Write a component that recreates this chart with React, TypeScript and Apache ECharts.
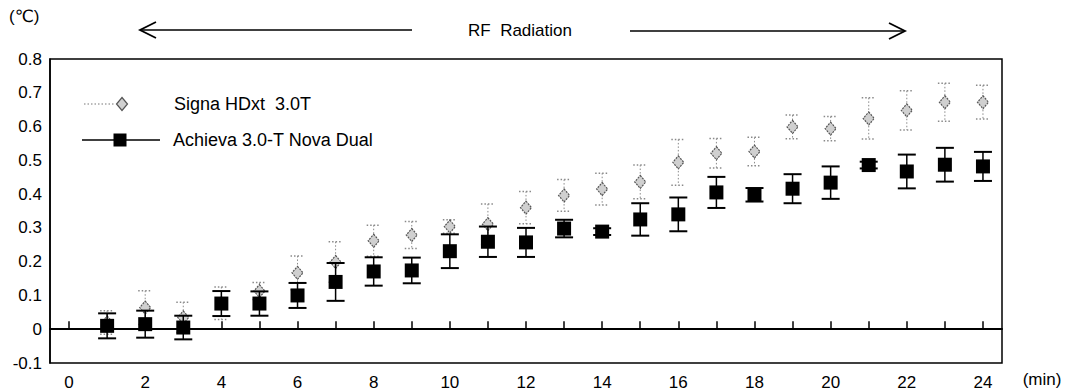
import React, { useEffect, useRef } from "react";
import * as echarts from "echarts";

const minuteLabels = ["0","1","2","3","4","5","6","7","8","9","10","11","12","13","14","15","16","17","18","19","20","21","22","23","24"];
const minutes = [1,2,3,4,5,6,7,8,9,10,11,12,13,14,15,16,17,18,19,20,21,22,23,24];
const signaMean = [0.02,0.064,0.035,0.077,0.113,0.167,0.199,0.262,0.279,0.304,0.311,0.36,0.396,0.415,0.436,0.494,0.521,0.526,0.599,0.594,0.624,0.648,0.672,0.672];
const signaSD = [0.035,0.05,0.045,0.048,0.025,0.05,0.06,0.046,0.04,0.02,0.06,0.048,0.047,0.047,0.05,0.068,0.044,0.042,0.035,0.036,0.061,0.058,0.056,0.05];
const achievaMean = [0.01,0.015,0.005,0.076,0.076,0.1,0.14,0.171,0.174,0.231,0.259,0.257,0.298,0.289,0.325,0.34,0.405,0.398,0.416,0.434,0.486,0.467,0.487,0.482];
const achievaSD = [0.037,0.04,0.035,0.037,0.036,0.037,0.056,0.042,0.038,0.05,0.045,0.043,0.026,0.01,0.048,0.05,0.046,0.02,0.043,0.048,0.01,0.05,0.05,0.043];

const FONT = "'Liberation Sans', Arial, 'DejaVu Sans', sans-serif";

function errRender(stroke: string, lineWidth: number, capW: number, dash: number[] | null) {
  return (params: any, api: any) => {
    const x = api.value(0);
    const lo = api.value(1);
    const hi = api.value(2);
    const t = api.coord([x, hi]);
    const b = api.coord([x, lo]);
    const hw = capW / 2;
    const style: any = { stroke, lineWidth, fill: null };
    if (dash) style.lineDash = dash;
    return {
      type: "group",
      children: [
        { type: "line", shape: { x1: t[0], y1: t[1], x2: b[0], y2: b[1] }, style },
        { type: "line", shape: { x1: t[0] - hw, y1: t[1], x2: t[0] + hw, y2: t[1] }, style: { ...style, lineWidth: lineWidth + 0.5 } },
        { type: "line", shape: { x1: b[0] - hw, y1: b[1], x2: b[0] + hw, y2: b[1] }, style: { ...style, lineWidth: lineWidth + 0.5 } },
      ],
    };
  };
}

export default function App() {
  const ref = useRef<HTMLDivElement>(null);
  useEffect(() => {
    const chart = echarts.init(ref.current!, null, { renderer: "svg" });
    const signaErr = minutes.map((m, i) => [m, signaMean[i] - signaSD[i], signaMean[i] + signaSD[i]]);
    const achErr = minutes.map((m, i) => [m, achievaMean[i] - achievaSD[i], achievaMean[i] + achievaSD[i]]);
    const signaPts = minutes.map((m, i) => [m, signaMean[i]]);
    const achPts = minutes.map((m, i) => [m, achievaMean[i]]);

    chart.setOption({
      animation: false,
      backgroundColor: "#fff",
      textStyle: { fontFamily: FONT, color: "#000" },
      grid: { left: 50, right: 65, top: 59, bottom: 29, show: true, borderColor: "#000", borderWidth: 1.5, backgroundColor: "transparent" },
      xAxis: {
        type: "category",
        data: minuteLabels,
        boundaryGap: true,
        axisLine: { show: true, lineStyle: { color: "#000", width: 2 } },
        axisTick: { show: true, inside: true, length: 8, alignWithLabel: true, interval: 0, lineStyle: { color: "#000", width: 1.5 } },
        axisLabel: { interval: 1, fontSize: 17, color: "#000", margin: 11, fontFamily: FONT },
        splitLine: { show: false },
      },
      yAxis: {
        type: "value",
        min: -0.1,
        max: 0.8,
        interval: 0.1,
        axisLine: { show: true, lineStyle: { color: "#000", width: 1.5 } },
        axisTick: { show: false },
        axisLabel: { fontSize: 17, color: "#000", margin: 8, fontFamily: FONT },
        splitLine: { show: false },
      },
      series: [
        {
          name: "Signa HDxt 3.0T error",
          type: "custom",
          renderItem: errRender("#8a8a8a", 1, 14, [1.5, 2]),
          encode: { x: 0, y: [1, 2] },
          data: signaErr,
          z: 2,
          silent: true,
          markLine: {
            silent: true,
            symbol: ["none", "none"],
            label: { show: false },
            lineStyle: { color: "#000", width: 2, type: "solid" },
            data: [{ yAxis: 0 }],
          },
        },
        {
          name: "Signa HDxt  3.0T",
          type: "scatter",
          data: signaPts,
          symbol: "diamond",
          symbolSize: [11, 13],
          itemStyle: { color: "#d0d0d0", borderColor: "#555", borderWidth: 1.2, borderType: [2, 1], opacity: 1 },
          z: 3,
        },
        {
          name: "Achieva error",
          type: "custom",
          renderItem: errRender("#000", 1.5, 18, null),
          encode: { x: 0, y: [1, 2] },
          data: achErr,
          z: 4,
          silent: true,
        },
        {
          name: "Achieva 3.0-T Nova Dual",
          type: "scatter",
          data: achPts,
          symbol: "rect",
          symbolSize: 14,
          itemStyle: { color: "#000", opacity: 1 },
          z: 5,
        },
      ],
      graphic: [
        { type: "text", left: 9, top: 8, style: { text: "(℃)", fontSize: 17, fill: "#000", fontFamily: FONT } },
        { type: "line", shape: { x1: 140, y1: 30, x2: 412, y2: 30 }, style: { stroke: "#000", lineWidth: 1.5 } },
        { type: "polyline", shape: { points: [[156, 22], [140, 30], [156, 38]] }, style: { stroke: "#000", lineWidth: 1.8, fill: null } },
        { type: "text", x: 520, y: 30, style: { text: "RF  Radiation", fontSize: 17, fill: "#000", fontFamily: FONT, align: "center", verticalAlign: "middle" } },
        { type: "line", shape: { x1: 630, y1: 31, x2: 905, y2: 31 }, style: { stroke: "#000", lineWidth: 1.5 } },
        { type: "polyline", shape: { points: [[889, 23], [905, 31], [889, 39]] }, style: { stroke: "#000", lineWidth: 1.8, fill: null } },
        { type: "line", shape: { x1: 84, y1: 104, x2: 115, y2: 104 }, style: { stroke: "#777", lineWidth: 1, lineDash: [1.5, 2] } },
        { type: "polygon", shape: { points: [[122, 97.5], [127.5, 104], [122, 110.5], [116.5, 104]] }, style: { fill: "#d0d0d0", stroke: "#555", lineWidth: 1.2 } },
        { type: "text", x: 174, y: 104, style: { text: "Signa HDxt  3.0T", fontSize: 18, fill: "#000", fontFamily: FONT, verticalAlign: "middle" } },
        { type: "line", shape: { x1: 82, y1: 140, x2: 160, y2: 140 }, style: { stroke: "#000", lineWidth: 1.5 } },
        { type: "rect", shape: { x: 113.5, y: 133.5, width: 13, height: 13 }, style: { fill: "#000" } },
        { type: "text", x: 173, y: 140, style: { text: "Achieva 3.0-T Nova Dual", fontSize: 18, fill: "#000", fontFamily: FONT, verticalAlign: "middle" } },
        { type: "text", x: 1042, y: 379, style: { text: "(min)", fontSize: 17, fill: "#000", fontFamily: FONT, align: "center", verticalAlign: "middle" } },
      ],
    });
    return () => chart.dispose();
  }, []);
  return <div ref={ref} style={{ position: "fixed", left: 0, top: 0, width: 1067, height: 392 }} />;
}
